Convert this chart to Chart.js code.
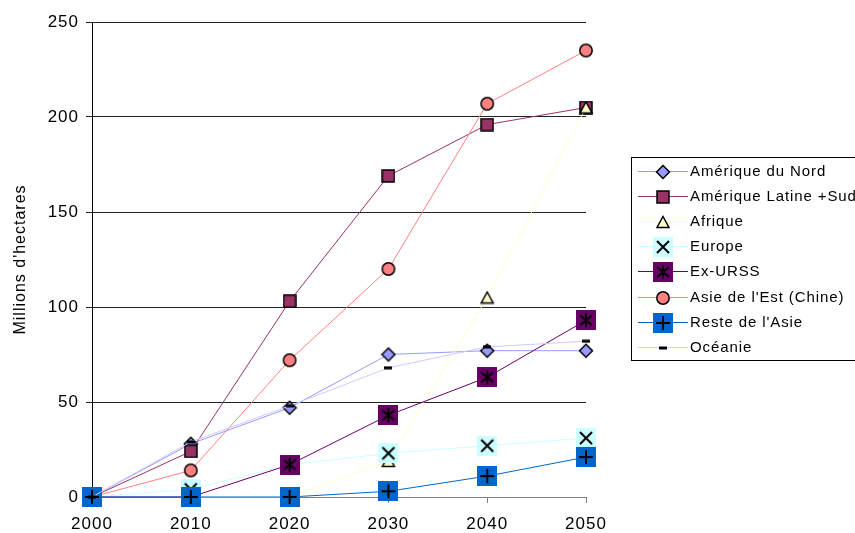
<!DOCTYPE html>
<html>
<head>
<meta charset="utf-8">
<script src="https://cdn.jsdelivr.net/npm/chart.js@4"></script>
<style>
  html, body { margin: 0; padding: 0; background: #fff; }
  #wrap { width: 855px; height: 533px; }
</style>
</head>
<body>
<div id="wrap"><canvas id="chart" width="855" height="533"></canvas></div>
<script>
// ---- data ----
let years = ["2000", "2010", "2020", "2030", "2040", "2050"];

let ameriqueNord = [0, 28, 47, 75, 77, 77];
let ameriqueLatine = [0, 24, 103, 169, 196, 205];
let afrique = [0, 0, 0, 19, 105, 205];
let europe = [0, 4, 17, 23, 27, 31];
let exUrss = [0, 0, 17, 43, 63, 93];
let asieEst = [0, 14, 72, 120, 207, 235];
let resteAsie = [0, 0, 0, 3, 11, 21];
let oceanie = [0, 29, 48, 68, 79, 82];

let yTicks = [0, 50, 100, 150, 200, 250];

// ---- marker images (Excel style) ----
function makeMarker(kind, fill) {
  let c = document.createElement("canvas");
  let g = c.getContext("2d");
  if (kind === "diamond") {
    c.width = 16; c.height = 16;
    g.beginPath();
    g.moveTo(8, 1.5); g.lineTo(14.5, 8); g.lineTo(8, 14.5); g.lineTo(1.5, 8); g.closePath();
    g.fillStyle = fill; g.fill();
    g.lineWidth = 1.5; g.strokeStyle = "#000"; g.stroke();
  } else if (kind === "square") {
    c.width = 14; c.height = 14;
    g.fillStyle = fill; g.fillRect(1, 1, 12, 12);
    g.lineWidth = 1.5; g.strokeStyle = "#000"; g.strokeRect(1, 1, 12, 12);
  } else if (kind === "triangle") {
    c.width = 16; c.height = 14;
    g.beginPath();
    g.moveTo(8, 1.5); g.lineTo(14, 12.5); g.lineTo(2, 12.5); g.closePath();
    g.fillStyle = fill; g.fill();
    g.lineWidth = 1.5; g.strokeStyle = "#000"; g.stroke();
  } else if (kind === "circle") {
    c.width = 16; c.height = 16;
    g.beginPath(); g.arc(8, 8, 6.2, 0, Math.PI * 2);
    g.fillStyle = fill; g.fill();
    g.lineWidth = 1.5; g.strokeStyle = "#000"; g.stroke();
  } else if (kind === "dash") {
    c.width = 8; c.height = 4;
    g.fillStyle = "#000"; g.fillRect(0, 0.5, 8, 3);
  } else {
    // boxed glyphs: x, star, plus
    c.width = 20; c.height = 20;
    g.fillStyle = fill; g.fillRect(0, 0, 20, 20);
    g.strokeStyle = "#000"; g.lineWidth = 2;
    g.beginPath();
    if (kind === "x") {
      g.moveTo(4, 4); g.lineTo(16, 16);
      g.moveTo(16, 4); g.lineTo(4, 16);
    } else if (kind === "star") {
      g.moveTo(10, 3); g.lineTo(10, 17);
      g.moveTo(4, 5); g.lineTo(16, 15);
      g.moveTo(16, 5); g.lineTo(4, 15);
    } else if (kind === "plus") {
      g.moveTo(10, 3); g.lineTo(10, 17);
      g.moveTo(3, 10); g.lineTo(17, 10);
    }
    g.stroke();
  }
  return c;
}

let series = [
  { label: "Amérique du Nord", data: ameriqueNord, line: "#9999FF", marker: makeMarker("diamond", "#9999FF") },
  { label: "Amérique Latine +Sud", data: ameriqueLatine, line: "#993366", marker: makeMarker("square", "#993366") },
  { label: "Afrique", data: afrique, line: "#FFFFCC", marker: makeMarker("triangle", "#FFFFCC") },
  { label: "Europe", data: europe, line: "#CCFFFF", marker: makeMarker("x", "#CCFFFF") },
  { label: "Ex-URSS", data: exUrss, line: "#660066", marker: makeMarker("star", "#660066") },
  { label: "Asie de l'Est (Chine)", data: asieEst, line: "#FF8080", marker: makeMarker("circle", "#FF8080") },
  { label: "Reste de l'Asie", data: resteAsie, line: "#0066CC", marker: makeMarker("plus", "#0066CC") },
  { label: "Océanie", data: oceanie, line: "#CCCCFF", marker: makeMarker("dash", "#000") }
];

// ---- legend drawn like the Excel box on the right ----
let boxLegend = {
  id: "boxLegend",
  afterDraw(chart) {
    let ctx = chart.ctx;
    ctx.save();
    ctx.strokeStyle = "#000";
    ctx.lineWidth = 1;
    ctx.strokeRect(631.5, 157.5, 240, 203);
    ctx.font = "15px 'Liberation Sans', Arial, sans-serif";
    ctx.letterSpacing = "0.9px";
    ctx.textBaseline = "middle";
    ctx.fillStyle = "#000";
    series.forEach((s, i) => {
      let y = Math.round(171 + i * 25.1) + 0.5;
      ctx.strokeStyle = s.line;
      ctx.lineWidth = 1;
      ctx.beginPath();
      ctx.moveTo(638, y); ctx.lineTo(688, y);
      ctx.stroke();
      let m = s.marker;
      ctx.drawImage(m, Math.round(663 - m.width / 2), Math.round(y - m.height / 2));
      ctx.fillText(s.label, 690, y);
    });
    ctx.restore();
  }
};

let spacing = {
  id: "spacing",
  beforeDraw(chart) { chart.ctx.letterSpacing = "1px"; }
};

let ctx = document.getElementById("chart").getContext("2d");

let chart = new Chart(ctx, {
  type: "line",
  data: {
    labels: years,
    datasets: series.map((s, i) => ({
      label: s.label,
      data: s.data,
      borderColor: s.line,
      backgroundColor: s.line,
      borderWidth: 1,
      pointStyle: s.marker,
      pointRadius: 6,
      tension: 0,
      fill: false,
      clip: false,
      order: series.length - i
    }))
  },
  options: {
    responsive: false,
    animation: false,
    events: [],
    layout: { padding: { left: 0, right: 269, top: 22, bottom: 0 } },
    plugins: {
      legend: { display: false },
      tooltip: { enabled: false }
    },
    scales: {
      x: {
        type: "category",
        offset: false,
        grid: { drawOnChartArea: false, drawTicks: true, tickLength: 6, color: "#808080" },
        border: { color: "#808080", width: 1 },
        ticks: {
          color: "#000",
          font: { family: "'Liberation Sans', Arial, sans-serif", size: 17 },
          padding: 11,
          maxRotation: 0
        },
        afterFit(scale) { scale.height = 36; }
      },
      y: {
        min: 0,
        max: 250,
        afterBuildTicks(scale) { scale.ticks = yTicks.map(v => ({ value: v })); },
        grid: { color: "#222", tickLength: 6, lineWidth: 1 },
        border: { color: "#000", width: 1 },
        ticks: {
          color: "#000",
          font: { family: "'Liberation Sans', Arial, sans-serif", size: 17 },
          padding: 7
        },
        title: {
          display: true,
          text: "Millions d'hectares",
          color: "#000",
          font: { family: "'Liberation Sans', Arial, sans-serif", size: 16 },
          padding: { top: 11, bottom: 4 }
        },
        afterFit(scale) { scale.width = 92; }
      }
    }
  },
  plugins: [spacing, boxLegend]
});
</script>
</body>
</html>
